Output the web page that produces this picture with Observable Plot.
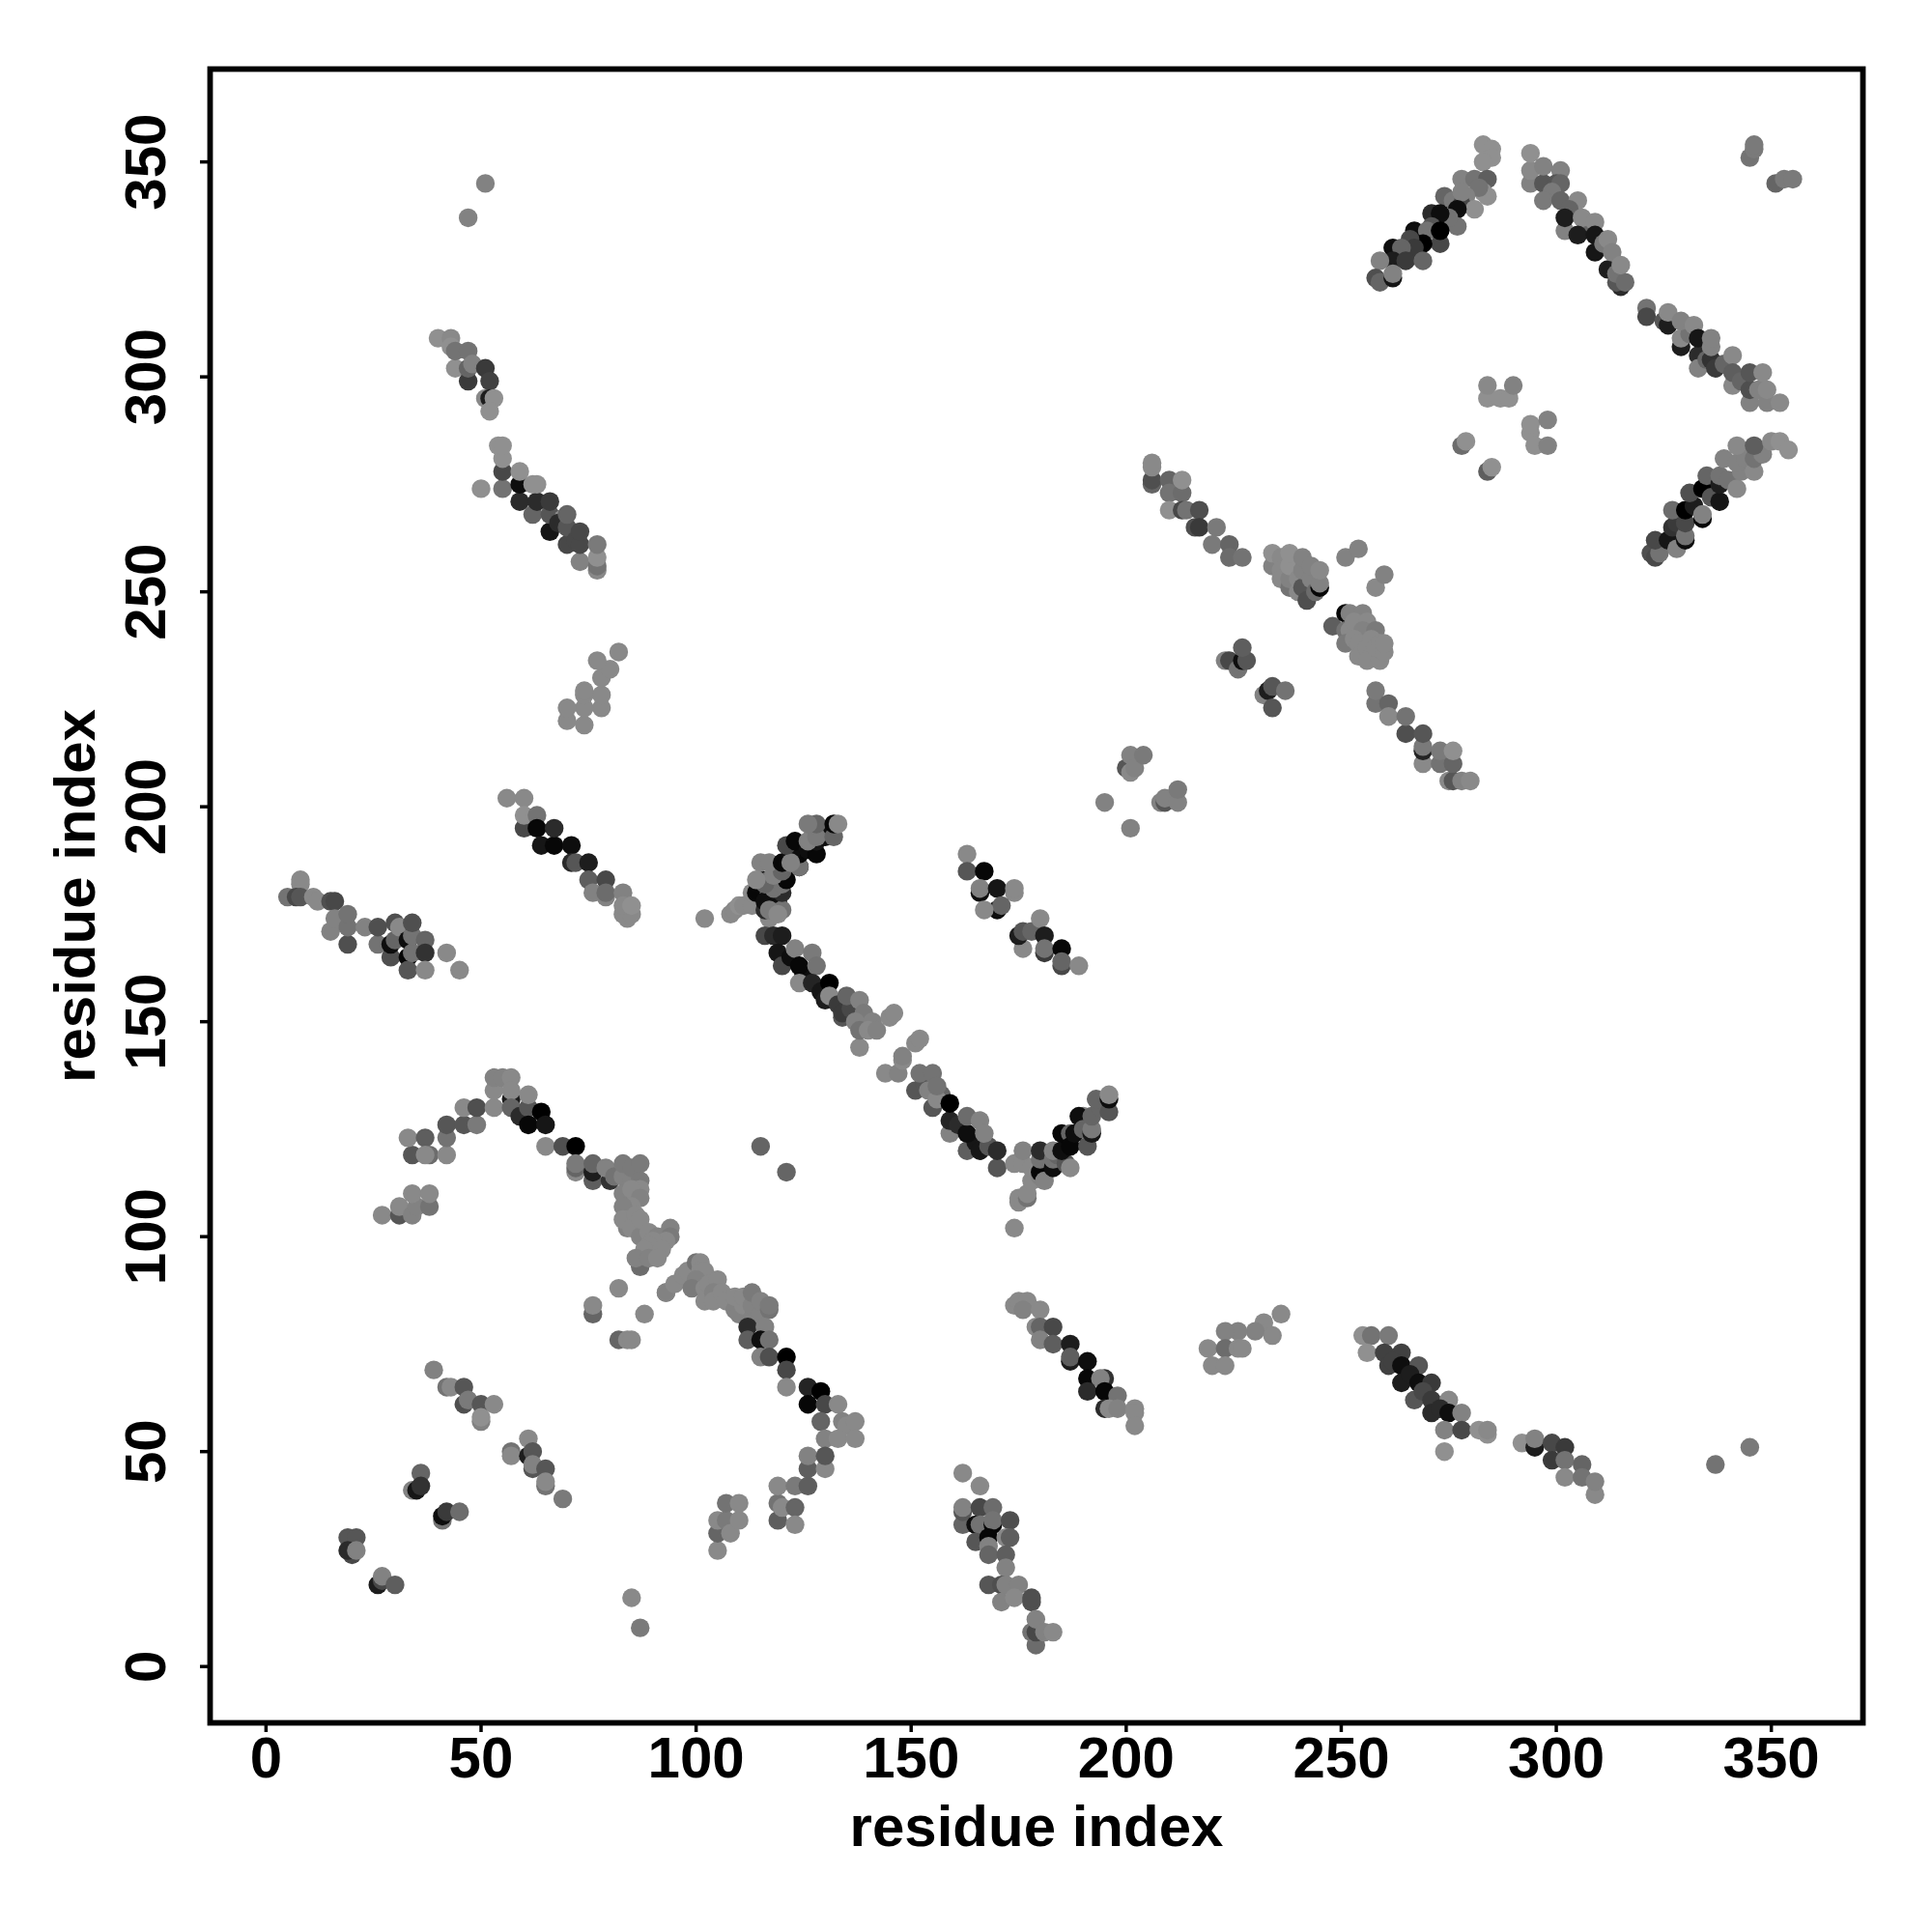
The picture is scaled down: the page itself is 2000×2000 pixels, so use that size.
<!DOCTYPE html>
<html><head><meta charset="utf-8">
<script src="https://cdn.jsdelivr.net/npm/d3@7"></script>
<script src="https://cdn.jsdelivr.net/npm/@observablehq/plot@0.6"></script>
<style>html,body{margin:0;padding:0;background:#fff}</style>
</head><body><div id="chart"></div>
<script>
// each entry: [residue i, residue j, contact strength]
const topLeftPair=[[51,345,.1],[47,337,.1]];
const topLeftA=[[40,309,0],[43,309,.05],[44,302,0],[43,307,0],[44,306,.2],[47,306,.2],[47,299,.6],[47,302,.3],[48,303,.1],[51,302,.6],[52,299,.55],[51,295,.05],[52,295,.8],[53,295,0],[52,292,0]];
const topLeftB=[[55,274,.2],[55,278,.5],[55,281,0],[54,284,0],[55,284,0],[50,274,0],[59,271,.7],[59,275,.9],[59,278,0],[62,268,.3],[63,271,.7],[62,275,0],[63,275,0],[66,264,.85],[66,268,.4],[66,271,.6],[69,267,0],[68,266,.7],[70,261,.5],[70,265,.4],[70,268,.3],[72,262,.5],[73,257,.1],[73,261,.5],[73,264,.5],[77,255,.05],[77,256,.2],[77,258,0],[77,261,.15]];
const upperPatch=[[78,223,.05],[78,226,.05],[78,230,.05],[80,232,.05],[77,234,.05],[82,236,.05],[74,219,.05],[74,223,.05],[74,226,.05],[74,227,.05],[70,220,.05],[70,223,.05]];
const midChain=[[56,202,.05],[60,202,.05],[60,195,.5],[60,198,0],[63,198,.2],[63,195,.95],[64,191,.85],[67,191,.95],[67,195,.7],[71,191,.9],[71,187,.7],[72,187,.4],[75,187,.8],[75,183,.35],[79,183,.5],[76,180,.1],[79,179,.1],[79,180,.25],[83,180,.1],[84,174,.05],[83,175,.05],[85,175,.05],[83,177,.05],[85,177,0]];
const leftChain=[[5,179,.2],[8,182,.05],[8,183,.05],[7,179,.5],[8,179,.4],[11,179,.05],[12,178,.05],[15,178,.45],[16,178,.5],[15,171,.1],[16,174,.1],[19,168,.45],[19,172,.2],[19,175,.2],[23,172,.1],[26,168,.2],[26,172,.45],[29,165,.45],[29,168,.9],[30,169,.3],[30,173,.45],[31,172,.05],[33,169,.9],[33,165,.95],[33,162,.4],[34,166,.2],[34,170,.2],[34,173,.45],[37,169,.3],[37,166,.65],[37,162,.05],[42,166,.05],[45,162,.05]];
const hairpinTop=[[102,174,.05],[108,175,.05],[109,176,.05],[110,177,0],[111,177,.05],[113,177,.05],[117,174,.05],[116,176,.7],[113,180,.05],[114,180,.95],[115,183,.95],[117,183,.3],[117,180,.2],[116,178,.9],[119,178,.9],[120,176,.2],[120,180,.7],[118,181,.2],[120,182,.2],[116,182,.3],[121,183,.95],[118,184,.1],[120,185,.3],[115,187,.1],[117,187,.1],[120,187,.95],[124,186,.95],[124,186,.2],[124,189,.95],[122,189,.9],[122,187,.1],[121,191,.5],[123,192,.95],[126,190,.9],[128,189,.95],[128,192,.85],[126,192,.1],[130,193,.9],[128,193,.15],[128,196,.3],[126,196,.15],[132,193,.3],[132,196,.95],[133,196,.05],[114,183,.05],[117,176,.15],[119,175,.05]];
const longChain=[[116,170,.5],[118,170,.7],[120,170,.8],[119,166,.85],[120,163,.5],[122,165,.9],[123,167,.1],[125,161,.9],[124,163,.95],[127,166,.15],[128,163,.2],[124,159,.05],[127,159,.75],[129,157,.85],[131,159,1],[130,155,.8],[131,156,.05],[133,154,.6],[134,151,.4],[134,152,.6],[136,153,.5],[135,156,.3],[138,155,.1],[139,152,.15],[137,150,.1],[141,150,.1],[138,144,.05],[138,148,.2],[140,148,.05],[142,148,.1],[145,151,.05],[146,152,.05],[144,138,.05],[147,138,.1],[148,141,.05],[148,142,.1],[151,145,.05],[152,146,.05],[151,134,.4],[153,136,.4],[152,138,.2],[154,134,.1],[155,138,.2],[155,130,.4],[157,133,.3],[156,132,.05],[156,135,.2],[159,124,.1],[159,127,.75],[161,126,.7],[159,131,1],[163,120,.35],[165,122,.85],[163,124,.9],[163,128,.25],[166,120,.85],[168,121,.4],[166,127,.1],[167,124,.1],[170,116,.4],[170,120,.7]];
const hairpinBottom=[[174,102,.05],[175,108,.05],[175,109,.05],[177,109,.2],[177,110,.05],[174,117,.05],[176,117,.05],[176,120,.1],[178,113,.05],[178,116,.05],[180,114,.1],[180,115,.95],[180,118,.2],[180,120,.7],[181,113,.1],[183,116,.9],[183,118,.2],[184,119,.3],[183,120,.1],[186,117,.4],[187,116,.05],[185,120,.9],[185,124,.95],[187,124,.3],[187,121,.95],[188,124,.9],[191,121,.4],[190,128,.1],[189,128,.9],[190,125,.3],[192,124,.85],[192,125,.15],[192,128,.3],[194,130,.3],[193,132,.3],[196,129,.4],[196,132,.9],[196,133,.05]];
const strayPair=[[115,121,.3],[121,115,.3]];
const centerBlock=[[163,189,.05],[163,185,.4],[167,185,.95],[166,180,.9],[166,181,.1],[170,181,.85],[174,180,.05],[174,181,.05],[170,176,.9],[171,177,.3],[167,176,.05],[176,167,.05],[175,170,.8],[176,171,.4],[178,171,.3],[180,174,.05],[181,170,.8],[181,166,.6],[181,167,.2],[185,167,.95],[185,163,.5],[185,164,.3],[189,163,.05]];
const archLeft=[[27,105,.05],[31,105,.4],[31,107,.05],[34,105,.1],[35,107,.1],[34,110,.05],[38,107,.2],[38,110,.05],[34,119,.4],[33,123,.05],[37,123,.35],[38,119,.25],[37,119,.05],[42,119,.05],[42,123,.2],[42,126,.4],[46,126,.4],[49,126,.15],[46,130,.05],[49,130,.45]];
const archTop=[[53,130,.05],[53,134,.05],[53,137,.1],[55,137,.1],[57,137,.05],[57,132,.8],[57,134,.05],[57,130,.3],[59,128,.7],[61,130,.4],[61,133,.05],[64,129,1],[61,126,.95],[65,126,.85],[65,121,.05],[69,121,.45],[72,121,1]];
const archRight=[[72,115,.05],[72,116,.3],[72,117,.15],[76,113,.35],[76,115,.8],[76,117,.3],[80,113,.65],[79,116,.1],[81,114,.2],[83,114,.1],[85,113,.1],[83,117,.15],[85,116,.15],[87,117,.15],[83,110,.1],[87,113,.15],[87,111,.05],[85,111,.05],[87,109,.1],[85,107,.05],[83,107,.1],[84,102,.1],[84,104,.05],[83,104,.05],[86,105,.05],[85,102,.05],[87,100,.1],[87,104,.05],[89,101,.05],[91,100,.1],[94,102,.1],[94,100,.15],[93,99,.05],[90,99,.05],[89,98,.05],[88,97,.05],[92,97,.05],[87,93,.25],[86,95,.1],[89,95,.1],[91,95,.05]];
const archLow=[[93,87,.2],[93,87,.1],[95,89,.05],[97,91,.05],[98,92,.05],[100,94,.2],[101,94,.05],[101,92,.05],[102,92,.05],[100,90,.1],[99,88,.15],[102,88,.05],[103,89,.05],[105,90,.05],[102,85,.05],[104,87,.1],[104,85,.05],[106,87,.05],[107,85,.05],[109,83,.1],[109,86,.05],[110,82,.1],[111,84,.05],[111,86,.05],[113,81,.1],[113,84,.1],[113,87,.15],[115,82,.1],[115,85,.1],[117,83,.2],[117,84,.15],[112,79,.7],[116,79,.1],[112,76,.35],[115,76,.9],[117,76,.2],[115,72,.1],[117,72,.45],[121,72,1],[121,69,.5],[121,65,.05],[126,65,.75],[129,64,1],[126,61,.95],[130,61,.5],[133,61,.05],[129,57,.3],[134,57,.1],[135,56,.05],[137,57,.05],[130,53,.1],[133,53,.05],[137,53,.05]];
const archInner=[[76,82,.3],[76,84,.05],[82,88,.05],[88,82,.05],[82,76,.3],[84,76,.05],[85,76,.05]];
const lowerLeft=[[39,69,.1],[42,65,.2],[43,65,.05],[46,65,.4],[46,61,.45],[47,62,.15],[50,61,.4],[53,61,.05],[50,57,.1],[50,58,0],[61,53,.05],[57,50,.2],[57,49,.05],[61,49,.8],[62,50,.4],[62,46,.4],[62,47,.1],[65,46,.4],[65,42,.2],[65,43,.05],[69,39,.15]];
const lowerSmall=[[36,45,.3],[34,41,.1],[35,41,.85],[36,42,.65],[41,34,.2],[41,35,.9],[42,36,.6],[45,36,.25],[19,30,.4],[21,30,.4],[20,26,.5],[19,27,.7],[21,27,.1],[26,19,.8],[27,20,.5],[27,21,.1],[30,19,.35],[85,16,.05],[87,9,.15]];
const lowerPatch=[[105,27,.05],[105,31,.3],[105,34,.05],[107,34,.15],[107,38,.2],[108,31,.05],[110,34,.05],[110,38,.05],[119,34,.35],[119,38,.2],[120,37,.05],[123,37,.3],[123,33,.05],[119,42,.05],[123,42,.15],[126,42,.35],[126,46,.35],[126,49,.1],[130,46,.05],[130,49,.4]];
const bottomChain=[[162,45,.05],[166,42,.05],[162,33,.3],[162,36,.4],[162,37,.1],[166,37,.5],[169,37,.25],[165,33,.9],[166,33,.2],[169,33,.95],[169,34,.2],[173,34,.45],[165,29,.4],[168,30,.95],[168,28,.1],[172,30,.05],[173,30,.35],[168,26,.3],[172,26,.35],[172,23,.1],[168,19,.4],[171,19,.45],[172,19,.1],[175,19,.1],[171,15,.1],[174,16,.05],[178,15,.45],[178,16,.45],[179,5,.25],[178,8,.2],[179,8,.5],[179,11,.1],[181,8,.1],[183,8,.05]];
const rightDown=[[174,84,.05],[175,85,.05],[177,85,.05],[176,83,.1],[180,83,.05],[179,79,.05],[180,79,.3],[183,79,.5],[180,76,.1],[183,75,.35],[187,75,.8],[187,71,.8],[187,72,.35],[191,71,.9],[191,67,.95],[195,67,.65],[194,67,.1],[191,64,.7],[195,64,.95],[198,63,.2],[195,60,.7],[196,60,.05],[198,60,.1],[202,60,.05],[202,59,.05],[202,56,.05]];
const bottomPatch=[[236,82,.05],[232,80,.05],[234,77,.05],[230,78,.1],[226,78,.1],[223,78,.1],[219,74,.05],[223,74,.25],[226,74,.05],[227,74,.05],[220,70,.05],[223,70,.05]];
const bottomRightA=[[255,77,0],[257,77,.2],[261,77,.15],[256,73,0],[260,73,.55],[264,73,.55],[261,70,.55],[262,71,.55],[264,70,.9],[268,70,.4],[264,66,.8],[266,68,.8],[268,66,.9],[271,66,.6],[267,62,.4],[269,64,.5],[271,62,.6],[275,62,.05],[271,59,.7],[273,60,.7],[275,59,.9],[278,59,.1],[274,50,0],[274,55,.1],[278,55,.5],[282,55,0],[284,54,0],[284,55,.05]];
const bottomRightB=[[292,52,0],[295,51,.8],[295,53,.1],[299,52,.5],[302,51,.6],[299,48,.6],[302,48,.2],[306,47,.3],[302,44,.05],[306,44,.2],[309,40,.05],[309,43,.1],[337,47,.2],[345,51,.15]];
const cornerTop=[[345,351,.2],[346,353,.15],[346,354,.15],[351,345,.3],[353,346,.15],[355,346,.15]];
const blockB=[[283,354,0],[285,353,0],[285,351,0],[283,350,0],[278,346,.1],[281,346,.2],[284,346,.35],[283,343,0],[284,342,0],[282,344,.2],[274,342,.3],[279,342,.1],[276,341,.15],[278,340,.5],[278,343,.1],[281,339,0],[277,339,.9],[277,335,.2],[275,337,.2],[271,338,.7],[273,338,.9],[271,335,.4],[267,334,.9],[270,334,.2],[273,331,.5],[273,334,1],[269,331,1],[266,332,.5],[267,330,.6],[262,330,.9],[264,330,.3],[262,327,.8],[265,327,.6],[269,327,.3],[259,327,.1],[258,323,.45],[259,322,.3],[262,323,.85],[262,324,.1]];
const blockC=[[294,345,.1],[294,348,.05],[294,352,0],[297,345,.4],[297,349,.1],[301,348,.1],[300,345,.4],[301,345,.3],[299,343,.15],[297,341,.15],[301,341,.3],[305,341,.05],[303,339,.3],[302,334,.1],[302,337,.8],[307,335,.3],[306,337,.05],[305,333,.8],[309,336,.05],[309,329,.85],[309,333,.85],[311,331,.15],[312,332,.05],[312,325,.8],[313,329,.1],[315,321,.7],[314,322,.4],[314,324,.2],[316,322,.25],[315,326,.05]];
const blockD=[[321,316,.2],[321,314,.5],[325,313,.4],[326,312,.8],[326,315,.05],[329,307,.8],[329,309,.05],[331,310,.2],[329,313,.1],[332,312,.05],[333,305,.7],[333,309,.85],[333,302,.1],[335,304,.3],[336,304,.65],[337,302,.6],[336,307,.1],[336,309,.1],[339,303,.3],[341,305,.05],[341,298,.05],[341,301,.35],[343,299,.3],[345,294,.1],[345,297,.45],[345,301,.4],[347,297,.1],[348,301,.05],[349,294,.1],[349,297,.05],[352,294,.05]];
const blockE=[[322,259,.45],[323,258,.5],[324,259,.2],[323,262,.5],[326,262,.85],[327,265,.65],[328,266,.6],[328,260,.1],[330,262,.9],[330,263,.2],[330,266,.5],[327,269,.25],[330,269,1],[332,270,.8],[331,273,.45],[334,267,.95],[334,268,.1],[334,274,1],[336,272,.4],[335,277,.3],[338,271,.85],[338,275,.8],[338,277,.2],[340,276,.2],[339,281,.1],[342,274,.05],[343,278,.1],[342,280,.1],[344,281,.1],[342,284,.05],[346,278,.05],[346,281,.2],[348,282,.1],[346,284,.35],[350,285,.05],[352,285,0],[354,283,0]];
const blockF=[[284,295,0],[284,298,.05],[287,295,0],[289,295,0],[290,298,.1],[294,287,0],[294,289,0],[298,290,.1],[295,284,0],[298,284,.1],[278,284,.25],[279,285,0],[284,278,.35],[285,279,0]];
const midPatch=[[195,201,.1],[200,209,.4],[201,208,.05],[201,212,.1],[202,209,.1],[204,212,.15],[201,195,.1],[208,201,.1],[209,201,.4],[209,202,.1],[212,201,.1],[212,204,.15]];
const crossA=[[206,275,.3],[206,276,.45],[206,279,.05],[206,280,.05],[210,276,.3],[210,273,.2],[213,273,.25],[213,276,0],[210,269,0],[213,269,.5],[214,269,.2],[217,269,.45],[216,265,.45],[217,265,.6],[221,265,.15],[220,261,.15],[224,261,.3],[224,258,.25],[227,258,.2]];
const crossB=[[234,256,.1],[234,259,0],[236,258,.05],[236,255,.05],[236,253,.05],[238,251,.2],[238,253,.1],[238,256,0],[238,259,0],[240,250,.05],[240,253,.05],[241,251,.4],[242,248,.45],[241,255,.1],[241,258,.1],[243,253,.1],[243,256,.1],[244,250,.25],[245,251,.95],[245,252,.1],[245,255,.05],[251,258,.1],[254,260,.1],[258,251,.05],[260,254,.1]];
const crossC=[[248,242,.35],[251,245,.95],[252,245,.1],[255,245,.1],[251,241,.2],[252,241,.05],[253,243,.05],[256,243,.05],[255,241,.1],[258,241,.15],[251,238,.15],[253,239,.05],[254,238,.05],[254,235,.05],[256,237,.05],[257,239,.05],[257,235,.05],[256,234,.05],[259,234,.05],[258,237,.05],[259,238,.05],[260,236,.05],[260,238,.05]];
const crossD=[[223,234,.1],[224,234,.5],[226,232,.2],[227,234,.9],[228,234,.4],[227,237,.35],[232,226,.1],[233,227,.8],[234,223,.4],[234,228,.4],[237,227,.2]];
const crossE=[[258,224,.2],[258,227,.15],[261,224,.3],[261,221,.05],[265,217,.45],[265,221,.2],[269,210,.05],[269,213,.75],[269,214,.15],[269,217,.4],[273,210,.2],[273,213,.15],[275,206,.05],[276,206,.4],[276,210,.3],[276,213,0],[278,206,.1],[280,206,.05]];

const groups=[topLeftPair,topLeftA,topLeftB,upperPatch,midChain,leftChain,hairpinTop,longChain,hairpinBottom,strayPair,centerBlock,archLeft,archTop,archRight,archLow,archInner,lowerLeft,lowerSmall,lowerPatch,bottomChain,rightDown,bottomPatch,bottomRightA,bottomRightB,cornerTop,blockB,blockC,blockD,blockE,blockF,midPatch,crossA,crossB,crossC,crossD,crossE];
const contacts=groups.flat().map(([i,j,s])=>({i,j,s}));
const tickValues=[0,50,100,150,200,250,300,350];
const axisLabel="residue index";
const font="'Liberation Sans', Arial, sans-serif";

const chart=Plot.plot({
  width:2000,height:2000,
  marginLeft:217,marginRight:72,marginTop:71,marginBottom:217,
  style:{background:"#fff",fontFamily:font},
  x:{domain:[-13,371.3],label:null},
  y:{domain:[-13.1,371.6],label:null},
  color:{type:"linear",domain:[0,1],range:["#909090","#000000"]},
  marks:[
    Plot.dot(contacts,{x:"i",y:"j",fill:"s",r:9.7}),
    Plot.frame({stroke:"#000",strokeWidth:5.8}),
    Plot.axisX({ticks:tickValues,tickSize:10,tickPadding:4,strokeWidth:3.5,fontSize:60,fontWeight:"bold",fontFamily:font,fill:"#000",color:"#000",stroke:"#000",
      tickFormat:d=>d,label:axisLabel,labelAnchor:"center",labelArrow:"none",labelOffset:127}),
    Plot.axisY({ticks:tickValues,tickSize:10,tickPadding:37,tickRotate:-90,strokeWidth:3.5,fontSize:60,fontWeight:"bold",fontFamily:font,fill:"#000",color:"#000",stroke:"#000",
      tickFormat:d=>d,label:axisLabel,labelAnchor:"center",labelArrow:"none",labelOffset:162})
  ]
});
document.getElementById("chart").appendChild(chart);
</script></body></html>
